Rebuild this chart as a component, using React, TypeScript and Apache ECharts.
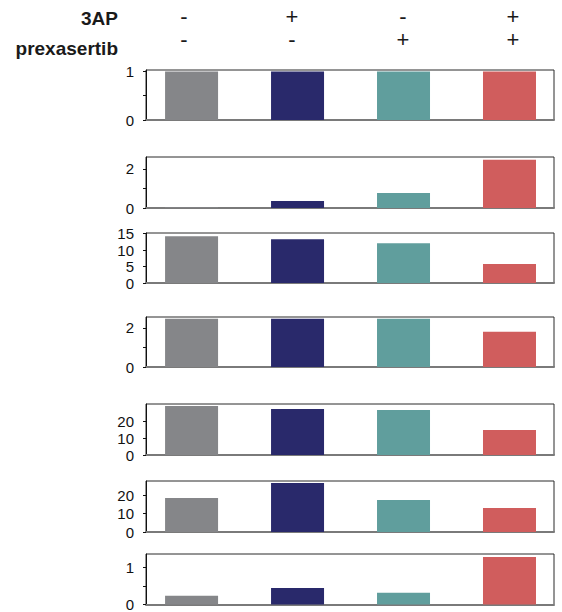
import React, { useEffect, useRef } from "react";
import * as echarts from "echarts";

const conditions = ["control", "3AP", "prexasertib", "3AP + prexasertib"];
const threeAPSigns = ["-", "+", "-", "+"];
const prexasertibSigns = ["-", "-", "+", "+"];
const barColors = ["#858689", "#29296b", "#609e9d", "#d05d5d"];

const panel1 = [1.0, 1.0, 1.0, 1.0];
const panel2 = [0.04, 0.36, 0.77, 2.46];
const panel3 = [14.2, 13.3, 12.1, 5.8];
const panel4 = [2.46, 2.46, 2.46, 1.8];
const panel5 = [28.8, 27.0, 26.5, 14.7];
const panel6 = [18.4, 26.5, 17.3, 13.0];
const panel7 = [0.24, 0.45, 0.32, 1.29];

const panelMax = [1.03, 2.6, 15.2, 2.55, 30, 27.6, 1.37];
const panelTicks = [
  [0, 0.5, 1],
  [0, 1, 2],
  [0, 5, 10, 15],
  [0, 1, 2],
  [0, 10, 20],
  [0, 10, 20],
  [0, 0.5, 1],
];
const panelLabels = [
  [0, 1],
  [0, 2],
  [0, 5, 10, 15],
  [0, 2],
  [0, 10, 20],
  [0, 10, 20],
  [0, 1],
];

const panels = [panel1, panel2, panel3, panel4, panel5, panel6, panel7];

// layout (pixels)
const gridTops = [70, 157, 233, 317, 404, 481, 554];
const gridHeights = [50, 51, 50, 50, 51, 51, 52];
const signX = [184, 292, 403, 513];

export default function App() {
  const ref = useRef<HTMLDivElement>(null);
  useEffect(() => {
    document.body.style.margin = "0";
    if (!ref.current) return;
    const chart = echarts.init(ref.current, null, { renderer: "svg" });
    const font = "Liberation Sans";
    const grids: any[] = [];
    const xAxes: any[] = [];
    const yAxes: any[] = [];
    const series: any[] = [];
    panels.forEach((vals, p) => {
      grids.push({
        left: 146,
        right: 8,
        top: gridTops[p],
        height: gridHeights[p],
        show: true,
        borderColor: "#2a2a2a",
        borderWidth: 1,
        backgroundColor: "transparent",
      });
      xAxes.push({
        type: "value",
        gridIndex: p,
        min: -0.43,
        max: 3.42,
        axisLine: { show: true, onZero: false, lineStyle: { color: "#7a7a7a", width: 2 } },
        axisTick: { show: false },
        axisLabel: { show: false },
        splitLine: { show: false },
      });
      yAxes.push({
        type: "value",
        gridIndex: p,
        min: 0,
        max: panelMax[p],
        axisLine: { show: true, onZero: false, lineStyle: { color: "#111", width: 1 } },
        axisTick: {
          show: true,
          length: 3,
          customValues: panelTicks[p],
          lineStyle: { color: "#111" },
        },
        axisLabel: {
          show: true,
          customValues: panelLabels[p],
          margin: 12,
          color: "#111",
          fontSize: 15,
          fontFamily: font,
        },
        splitLine: { show: false },
      });
      series.push({
        type: "bar",
        xAxisIndex: p,
        yAxisIndex: p,
        barWidth: 53,
        data: vals.map((v, i) => ({
          value: [i, v],
          name: conditions[i],
          itemStyle: { color: barColors[i] },
        })),
      });
    });

    const textStyle = (text: string, bold: boolean, size: number, align: string) => ({
      text,
      align,
      verticalAlign: "middle",
      fontSize: size,
      fontWeight: bold ? "bold" : "normal",
      fontFamily: font,
      fill: "#1a1a1a",
    });

    const graphics: any[] = [
      { type: "text", x: 118, y: 18, style: textStyle("3AP", true, 19, "right") },
      { type: "text", x: 118, y: 48, style: textStyle("prexasertib", true, 19, "right") },
    ];
    threeAPSigns.forEach((s, i) => {
      graphics.push({ type: "text", x: signX[i], y: 16, style: textStyle(s, false, 22, "center") });
    });
    prexasertibSigns.forEach((s, i) => {
      graphics.push({ type: "text", x: signX[i], y: 39.5, style: textStyle(s, false, 22, "center") });
    });

    chart.setOption({
      animation: false,
      backgroundColor: "#fff",
      grid: grids,
      xAxis: xAxes,
      yAxis: yAxes,
      series,
      graphic: graphics,
    });
    return () => chart.dispose();
  }, []);
  return <div ref={ref} style={{ width: 562, height: 612 }} />;
}
